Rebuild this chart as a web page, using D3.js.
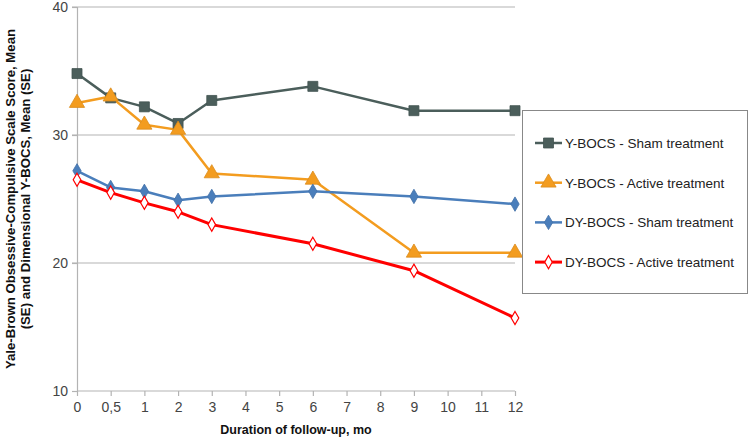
<!DOCTYPE html>
<html><head><meta charset="utf-8">
<script src="https://cdn.jsdelivr.net/npm/d3@7"></script>
<style>body{margin:0;background:#fff}svg{display:block}text{font-family:"Liberation Sans",Arial,sans-serif}</style>
</head><body><svg id="c" width="751" height="439"></svg>
<script>
const categories = ["0","0,5","1","2","3","4","5","6","7","8","9","10","11","12"];
const yTicks = [10,20,30,40];
const seriesNames = ["Y-BOCS - Sham treatment","Y-BOCS - Active treatment","DY-BOCS - Sham treatment","DY-BOCS - Active treatment"];
const seriesCats = ["0","0,5","1","2","3","6","9","12"];
const ybocsSham   = [34.8, 32.9, 32.2, 30.9, 32.7, 33.8, 31.9, 31.9];
const ybocsActive = [32.5, 33.0, 30.8, 30.4, 27.0, 26.5, 20.8, 20.8];
const dybocsSham  = [27.2, 25.9, 25.6, 24.9, 25.2, 25.6, 25.2, 24.6];
const dybocsActive= [26.5, 25.5, 24.7, 24.0, 23.0, 21.5, 19.4, 15.7];

const svg = d3.select("#c");
const x = d3.scalePoint().domain(categories).range([77,515]);
const y = d3.scaleLinear().domain([10,40]).range([391,7]);

svg.append("g").selectAll("line").data(yTicks.slice(1)).join("line")
  .attr("x1",72).attr("x2",515).attr("y1",d=>y(d)).attr("y2",d=>y(d))
  .attr("stroke","#b3b3b3").attr("stroke-width",1.2);

const ya = svg.append("g").attr("transform","translate(77,0)")
  .call(d3.axisLeft(y).tickValues(yTicks).tickSize(5).tickPadding(4));
ya.select(".domain").attr("stroke","#b3b3b3").attr("stroke-width",1.2);
ya.selectAll(".tick line").attr("stroke","#b3b3b3").attr("stroke-width",1.2);
ya.selectAll(".tick text").attr("font-size",14).attr("fill","#444").style("font-family","'Liberation Sans',Arial,sans-serif");

const xa = svg.append("g").attr("transform","translate(0,391)")
  .call(d3.axisBottom(x).tickSize(5).tickSizeOuter(0).tickPadding(6));
xa.select(".domain").attr("stroke","#b3b3b3").attr("stroke-width",1.2).attr("d","M77,0H515");
xa.selectAll(".tick line").attr("stroke","#b3b3b3").attr("stroke-width",1.2);
xa.selectAll(".tick text").attr("font-size",14).attr("fill","#444").style("font-family","'Liberation Sans',Arial,sans-serif");

svg.append("text").attr("x",296).attr("y",434).attr("text-anchor","middle")
  .attr("font-size",12.5).attr("font-weight","bold").attr("fill","#111").text("Duration of follow-up, mo");
const yt = svg.append("text").attr("transform","translate(0,199) rotate(-90)").attr("text-anchor","middle")
  .attr("font-size",13.2).attr("font-weight","bold").attr("fill","#111");
yt.append("tspan").attr("x",0).attr("y",15).text("Yale-Brown Obsessive-Compulsive Scale  Score, Mean");
yt.append("tspan").attr("x",0).attr("y",30).text("(SE) and Dimensional Y-BOCS, Mean (SE)");

const styles = [
  {data:ybocsSham, color:"#4b5e5b", w:2.5, sym:d3.symbolSquare, size:100, fill:"#4b5e5b"},
  {data:ybocsActive, color:"#f39c1f", w:2.5, sym:d3.symbolTriangle, size:100, fill:"#f39c1f"},
  {data:dybocsSham, color:"#4a7ebb", w:2.5, sym:d3.symbolDiamond, size:60, fill:"#4a7ebb"},
  {data:dybocsActive, color:"#ff0000", w:3, sym:d3.symbolDiamond, size:50, fill:"#fff"}
];
const line = d3.line().x((d,i)=>x(seriesCats[i])).y(d=>y(d));
styles.forEach(s=>{
  svg.append("path").attr("d",line(s.data)).attr("fill","none").attr("stroke",s.color)
    .attr("stroke-width",s.w).attr("stroke-linejoin","round");
});
styles.forEach(s=>{
  svg.append("g").selectAll("path").data(s.data).join("path")
    .attr("transform",(d,i)=>`translate(${x(seriesCats[i])},${y(d)})`)
    .attr("d",d3.symbol().type(s.sym).size(s.size)())
    .attr("fill",s.fill).attr("stroke",s.fill==="#fff"?s.color:d3.color(s.color).darker(0.3))
    .attr("stroke-width",s.fill==="#fff"?1.2:0.8);
});

const lg = svg.append("g");
lg.append("rect").attr("x",522.5).attr("y",110.5).attr("width",225).attr("height",183)
  .attr("fill","#fff").attr("stroke","#888").attr("stroke-width",1);
styles.forEach((s,i)=>{
  const ly = 143 + i*39.7;
  lg.append("line").attr("x1",535).attr("x2",562).attr("y1",ly).attr("y2",ly).attr("stroke",s.color).attr("stroke-width",s.w);
  lg.append("path").attr("transform",`translate(548.5,${ly})`).attr("d",d3.symbol().type(s.sym).size(s.size)())
    .attr("fill",s.fill).attr("stroke",s.fill==="#fff"?s.color:d3.color(s.color).darker(0.3)).attr("stroke-width",s.fill==="#fff"?1.2:0.8);
  lg.append("text").attr("x",565).attr("y",ly+5).attr("font-size",13.5).attr("fill","#222").text(seriesNames[i]);
});
</script></body></html>
